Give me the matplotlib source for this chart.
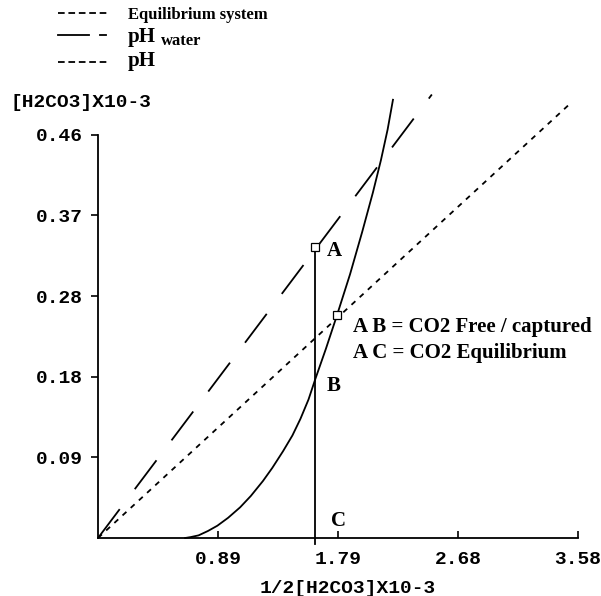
import numpy as np
import matplotlib
matplotlib.use("Agg")
import matplotlib.pyplot as plt
from matplotlib.lines import Line2D

plt.rcParams['lines.scale_dashes'] = False

# equilibrium system curve
eq_x = [0.65, 0.69, 0.75, 0.82, 0.89, 0.97, 1.06, 1.14, 1.23, 1.30, 1.38, 1.45,
        1.51, 1.57, 1.62, 1.70, 1.78, 1.88, 1.97, 2.05, 2.11, 2.16, 2.20]
eq_y = [0.0, 0.001, 0.003, 0.008, 0.014, 0.023, 0.035, 0.048, 0.065, 0.080, 0.099, 0.117,
        0.136, 0.158, 0.181, 0.216, 0.253, 0.301, 0.349, 0.394, 0.431, 0.466, 0.500]

# pH water line (long dash) and pH line (short dash)
phw_x = [0.0, 2.49]
phw_y = [0.0, 0.506]
ph_x = [0.0, 3.51]
ph_y = [0.0, 0.494]

# points A, B, C and the square markers
pt_A = (1.62, 0.332)
pt_B = (1.62, 0.184)
pt_sq2 = (1.78, 0.255)

xticks = [0.895, 1.79, 2.685, 3.58]
xlabels = ['0.89', '1.79', '2.68', '3.58']
yticks = [0.092, 0.184, 0.276, 0.368, 0.46]
ylabels = ['0.09', '0.18', '0.28', '0.37', '0.46']

W, H = 601, 596
fig = plt.figure(figsize=(W / 100, H / 100), dpi=100)
ax = fig.add_axes([98 / W, 58 / H, 480 / W, 447 / H])
ax.set_xlim(0, 3.58)
ax.set_ylim(0, 0.51)

lw = 1.3
ax.plot(eq_x, eq_y, color='black', lw=lw, clip_on=False)
ax.plot(phw_x, phw_y, color='black', lw=lw, dashes=(26, 18), clip_on=False)
ax.plot(ph_x, ph_y, color='black', lw=lw, dashes=(3.8, 4.2), clip_on=False)
ax.plot([pt_A[0], pt_A[0]], [-0.007, pt_A[1]], color='black', lw=lw, clip_on=False)
ax.plot([pt_A[0], pt_sq2[0]], [pt_A[1], pt_sq2[1]], ls='none', marker='s', ms=6,
        mfc='white', mec='black', mew=0.9, clip_on=False, zorder=5)

serif = 'Liberation Serif'
ax.text(pt_A[0] + 0.085, pt_A[1] - 0.004, 'A', fontsize=15, fontweight='bold', family=serif, va='center')
ax.text(pt_B[0] + 0.085, pt_B[1] - 0.011, 'B', fontsize=15, fontweight='bold', family=serif, va='center')
ax.text(pt_A[0] + 0.12, 0.019, 'C', fontsize=15, fontweight='bold', family=serif, va='center')
ax.text(1.90, 0.241, 'A B = CO2 Free / captured', fontsize=15, fontweight='bold', family=serif, va='center')
ax.text(1.90, 0.211, 'A C = CO2 Equilibrium', fontsize=15, fontweight='bold', family=serif, va='center')

for s in ['top', 'right']:
    ax.spines[s].set_visible(False)
ax.spines['left'].set_bounds(0, 0.46)
ax.spines['bottom'].set_bounds(0, 3.58)
ax.spines['left'].set_linewidth(1.3)
ax.spines['bottom'].set_linewidth(1.3)

mono = 'Liberation Mono'
ax.set_xticks(xticks)
ax.set_xticklabels(xlabels, family=mono, fontweight='bold', fontsize=14)
ax.set_yticks(yticks)
ax.set_yticklabels(ylabels, family=mono, fontweight='bold', fontsize=14)
ax.tick_params(axis='x', direction='in', length=5, width=1.2, pad=9)
ax.tick_params(axis='y', direction='out', length=5, width=1.2, pad=6)
ax.set_xlabel('1/2[H2CO3]X10-3', family=mono, fontweight='bold', fontsize=14, labelpad=2)
ax.xaxis.set_label_coords(0.52, -0.095)

def fy(py):
    return 1 - py / H

fig.text(10 / W, fy(103), '[H2CO3]X10-3', family=mono, fontweight='bold', fontsize=14, va='center')

# legend drawn by hand
fig.add_artist(Line2D([58 / W, 107 / W], [fy(13), fy(13)], color='black', lw=1.3, dashes=(4.8, 2.7)))
fig.add_artist(Line2D([58 / W, 89 / W], [fy(35), fy(35)], color='black', lw=1.3))
fig.add_artist(Line2D([100 / W, 106 / W], [fy(35), fy(35)], color='black', lw=1.3))
fig.add_artist(Line2D([58 / W, 107 / W], [fy(62), fy(62)], color='black', lw=1.3, dashes=(4.8, 2.7)))
fig.text(128 / W, fy(15), 'Equilibrium system', family=serif, fontweight='bold', fontsize=12, va='center')
fig.text(128 / W, fy(37), 'pH', family=serif, fontweight='bold', fontsize=15, va='center')
fig.text(161 / W, fy(41), 'water', family=serif, fontweight='bold', fontsize=12, va='center')
fig.text(128 / W, fy(61), 'pH', family=serif, fontweight='bold', fontsize=15, va='center')

fig.savefig('out.png', dpi=100)
